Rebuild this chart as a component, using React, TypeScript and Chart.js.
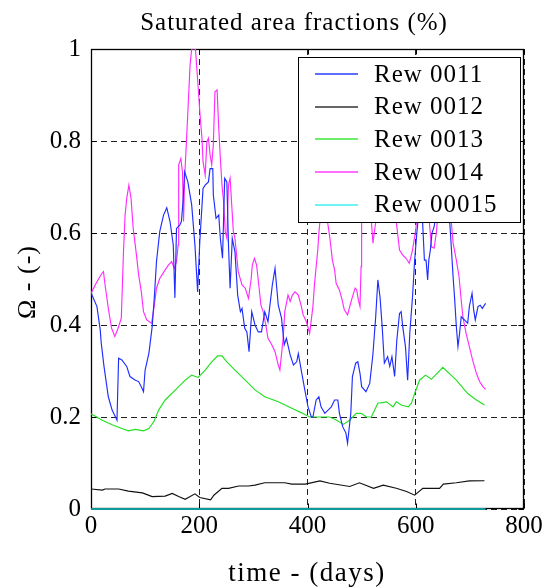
import React, { useEffect, useRef } from "react";
import { Chart, registerables } from "chart.js";
Chart.register(...registerables);

// ---------- data ----------
const seriesNames = ["Rew 0011", "Rew 0012", "Rew 0013", "Rew 0014", "Rew 00015"];
const seriesColors = ["#1f2dff", "#111111", "#22e022", "#ff2cff", "#0e9a9a"];
const legendColors = ["#2a3cff", "#333333", "#3ae83a", "#ff3cff", "#3ef0f0"];

const xTickValues = [0, 200, 400, 600, 800];
const yTickValues = [0, 0.2, 0.4, 0.6, 0.8, 1];

const rew0011Days = [0, 11, 17, 19, 24, 32, 39, 48, 51, 57, 66, 72, 82, 88, 94, 97, 100, 107, 113, 117, 121, 127, 134, 140, 146, 152, 155, 158, 164, 167, 170, 173, 179, 186, 192, 197, 201, 207, 211, 217, 220, 225, 226, 231, 236, 239, 243, 247, 251, 254, 257, 261, 266, 271, 276, 279, 284, 288, 292, 297, 303, 309, 315, 321, 327, 335, 340, 346, 352, 357, 361, 368, 374, 380, 383, 389, 395, 401, 407, 410, 416, 421, 425, 432, 438, 444, 450, 456, 459, 465, 471, 474, 480, 483, 489, 493, 497, 500, 508, 515, 521, 526, 530, 534, 538, 542, 548, 552, 556, 561, 565, 570, 573, 576, 581, 585, 589, 594, 598, 602, 607, 612, 616, 619, 622, 624, 627, 630, 634, 640, 647, 654, 663, 666, 669, 672, 675, 678, 681, 684, 690, 696, 699, 704, 707, 710, 715, 719, 723, 729];
const rew0011 = [0.47, 0.44, 0.39, 0.36, 0.31, 0.244, 0.215, 0.193, 0.328, 0.324, 0.31, 0.288, 0.28, 0.277, 0.263, 0.255, 0.302, 0.339, 0.396, 0.46, 0.538, 0.603, 0.639, 0.655, 0.625, 0.574, 0.459, 0.61, 0.617, 0.625, 0.668, 0.733, 0.711, 0.661, 0.574, 0.472, 0.581, 0.697, 0.704, 0.711, 0.74, 0.74, 0.683, 0.632, 0.639, 0.588, 0.545, 0.719, 0.711, 0.574, 0.48, 0.588, 0.559, 0.465, 0.429, 0.436, 0.393, 0.385, 0.342, 0.429, 0.4, 0.385, 0.385, 0.429, 0.407, 0.487, 0.523, 0.443, 0.415, 0.357, 0.371, 0.335, 0.313, 0.32, 0.338, 0.298, 0.259, 0.222, 0.2, 0.2, 0.237, 0.244, 0.222, 0.208, 0.215, 0.222, 0.237, 0.237, 0.208, 0.179, 0.165, 0.143, 0.208, 0.288, 0.317, 0.32, 0.295, 0.266, 0.255, 0.273, 0.338, 0.418, 0.498, 0.461, 0.396, 0.317, 0.331, 0.31, 0.331, 0.288, 0.367, 0.425, 0.429, 0.396, 0.353, 0.28, 0.382, 0.461, 0.541, 0.6, 0.66, 0.64, 0.541, 0.541, 0.498, 0.54, 0.563, 0.6, 0.614, 0.66, 0.7, 0.67, 0.62, 0.563, 0.505, 0.454, 0.396, 0.353, 0.382, 0.418, 0.411, 0.404, 0.44, 0.469, 0.433, 0.411, 0.44, 0.443, 0.436, 0.447];

const rew0012Days = [0, 21, 26, 51, 69, 95, 113, 137, 150, 162, 174, 192, 201, 221, 227, 242, 254, 273, 291, 303, 321, 358, 371, 396, 423, 441, 478, 496, 522, 540, 564, 583, 598, 613, 644, 651, 675, 699, 727];
const rew0012 = [0.0435, 0.041, 0.0435, 0.0435, 0.039, 0.035, 0.027, 0.028, 0.034, 0.027, 0.021, 0.033, 0.025, 0.02, 0.03, 0.045, 0.045, 0.05, 0.05, 0.052, 0.057, 0.057, 0.054, 0.054, 0.061, 0.056, 0.049, 0.057, 0.045, 0.052, 0.045, 0.038, 0.03, 0.045, 0.045, 0.054, 0.057, 0.061, 0.0615];

const rew0013Days = [0, 21, 39, 57, 69, 82, 97, 107, 116, 125, 137, 156, 174, 186, 198, 211, 223, 234, 242, 251, 266, 285, 303, 321, 346, 371, 389, 404, 441, 454, 466, 478, 490, 499, 509, 518, 524, 530, 546, 558, 564, 573, 586, 592, 598, 607, 618, 629, 650, 675, 696, 712, 727];
const rew0013 = [0.207, 0.193, 0.183, 0.175, 0.17, 0.173, 0.17, 0.175, 0.19, 0.215, 0.237, 0.259, 0.28, 0.291, 0.286, 0.302, 0.32, 0.333, 0.333, 0.32, 0.302, 0.28, 0.259, 0.244, 0.233, 0.219, 0.209, 0.2, 0.2, 0.193, 0.184, 0.193, 0.208, 0.208, 0.2, 0.2, 0.215, 0.23, 0.233, 0.222, 0.233, 0.226, 0.222, 0.23, 0.251, 0.28, 0.291, 0.282, 0.308, 0.28, 0.251, 0.237, 0.226];

const rew0014Days = [0, 11, 20, 23, 26, 32, 38, 44, 50, 56, 60, 63, 66, 70, 74, 78, 84, 88, 93, 97, 103, 112, 117, 121, 127, 135, 143, 149, 154, 158, 161, 162, 166, 169, 171, 173, 176, 179, 183, 186, 193, 196, 199, 201, 205, 207, 211, 214, 217, 220, 223, 226, 229, 233, 236, 239, 242, 245, 248, 251, 254, 257, 260, 263, 266, 269, 272, 279, 285, 291, 296, 298, 302, 306, 310, 314, 318, 323, 327, 334, 340, 346, 349, 355, 358, 364, 368, 372, 377, 383, 388, 392, 398, 404, 407, 410, 413, 416, 419, 421, 423, 427, 433, 437, 441, 446, 450, 453, 459, 464, 468, 474, 478, 483, 488, 491, 494, 497, 499, 500, 505, 511, 518, 521, 524, 527, 534, 544, 554, 559, 564, 570, 576, 582, 588, 594, 600, 604, 612, 619, 625, 629, 634, 638, 644, 652, 659, 666, 669, 675, 680, 684, 687, 693, 699, 705, 712, 718, 724, 729];
const rew0014 = [0.469, 0.494, 0.512, 0.516, 0.487, 0.436, 0.393, 0.375, 0.393, 0.415, 0.559, 0.639, 0.675, 0.704, 0.675, 0.61, 0.552, 0.509, 0.472, 0.429, 0.411, 0.404, 0.443, 0.48, 0.501, 0.516, 0.53, 0.538, 0.523, 0.538, 0.574, 0.748, 0.762, 0.733, 0.625, 0.719, 0.791, 0.864, 0.965, 1.0, 1.0, 0.95, 0.9, 0.864, 0.806, 0.755, 0.726, 0.798, 0.806, 0.77, 0.748, 0.791, 0.907, 0.911, 0.828, 0.762, 0.704, 0.668, 0.603, 0.589, 0.704, 0.719, 0.661, 0.603, 0.588, 0.552, 0.516, 0.487, 0.48, 0.458, 0.501, 0.53, 0.545, 0.53, 0.487, 0.443, 0.429, 0.4, 0.371, 0.357, 0.342, 0.313, 0.302, 0.371, 0.429, 0.465, 0.451, 0.465, 0.472, 0.465, 0.443, 0.422, 0.407, 0.382, 0.411, 0.44, 0.49, 0.527, 0.563, 0.6, 0.625, 0.68, 0.66, 0.625, 0.592, 0.541, 0.52, 0.49, 0.476, 0.454, 0.433, 0.422, 0.44, 0.461, 0.48, 0.476, 0.454, 0.44, 0.527, 0.625, 0.7, 0.68, 0.625, 0.578, 0.607, 0.63, 0.72, 0.75, 0.7, 0.66, 0.625, 0.563, 0.552, 0.545, 0.534, 0.563, 0.607, 0.66, 0.72, 0.68, 0.625, 0.57, 0.567, 0.6, 0.68, 0.72, 0.66, 0.62, 0.578, 0.541, 0.505, 0.454, 0.418, 0.382, 0.353, 0.324, 0.295, 0.277, 0.266, 0.26];

const rew00015Days = [0, 729];
const rew00015 = [0, 0];

// ---------- helpers ----------
const SERIF = "'Liberation Serif', 'Times New Roman', serif";
const pts = (d: number[], v: number[]) => d.map((x, i) => ({ x, y: v[i] }));

const framePlugin = {
  id: "frame",
  beforeDatasetsDraw(chart: any) {
    const { ctx, chartArea: a, scales } = chart;
    const L = Math.round(a.left) + 0.5, R = Math.round(a.right) - 0.5;
    const T = Math.round(a.top) + 0.5, B = Math.round(a.bottom) - 0.5;
    ctx.save();
    ctx.setLineDash([]);
    ctx.strokeStyle = "#000";
    ctx.lineWidth = 1.3;
    ctx.strokeRect(L, T, R - L, B - T);
    ctx.lineWidth = 1;
    ctx.beginPath();
    for (const v of xTickValues) {
      const px = Math.round(scales.x.getPixelForValue(v)) + 0.5;
      ctx.moveTo(px, B); ctx.lineTo(px, B - 5);
      ctx.moveTo(px, T); ctx.lineTo(px, T + 5);
    }
    for (const v of yTickValues) {
      const py = Math.round(scales.y.getPixelForValue(v)) + 0.5;
      ctx.moveTo(L, py); ctx.lineTo(L + 5, py);
      ctx.moveTo(R, py); ctx.lineTo(R - 5, py);
    }
    ctx.stroke();
    ctx.restore();
  },
};

const legendPlugin = {
  id: "boxLegend",
  afterDatasetsDraw(chart: any) {
    const { ctx } = chart;
    const bx = 290.5, by = 49.5, bw = 222, bh = 165;
    ctx.save();
    ctx.fillStyle = "#fff";
    ctx.fillRect(bx, by, bw, bh);
    ctx.strokeStyle = "#000";
    ctx.lineWidth = 1;
    ctx.setLineDash([]);
    ctx.strokeRect(bx, by, bw, bh);
    ctx.font = `25px ${SERIF}`;
    (ctx as any).letterSpacing = "1px";
    ctx.textBaseline = "middle";
    ctx.textAlign = "left";
    chart.data.datasets.forEach((ds: any, i: number) => {
      const y = 66 + i * 32.7;
      ctx.strokeStyle = legendColors[i];
      ctx.lineWidth = 1.6;
      ctx.beginPath();
      ctx.moveTo(307, Math.round(y));
      ctx.lineTo(350, Math.round(y));
      ctx.stroke();
      ctx.fillStyle = "#000";
      ctx.fillText(ds.label, 366, y + 1);
    });
    ctx.restore();
  },
};

const labelsPlugin = {
  id: "labels",
  afterDraw(chart: any) {
    const { ctx } = chart;
    ctx.save();
    ctx.fillStyle = "#000";
    ctx.textAlign = "center";
    ctx.textBaseline = "alphabetic";
    ctx.font = `25px ${SERIF}`;
    (ctx as any).letterSpacing = "1px";
    ctx.fillText("Saturated area fractions (%)", 286, 22);
    ctx.font = `27px ${SERIF}`;
    (ctx as any).letterSpacing = "1.5px";
    ctx.fillText("time - (days)", 299, 573);
    ctx.translate(27, 274);
    ctx.rotate(-Math.PI / 2);
    ctx.font = `26px ${SERIF}`;
    (ctx as any).letterSpacing = "1px";
    ctx.fillText("\u03A9 - (-)", 0, 0);
    ctx.restore();
  },
};

const fmt = (v: number) => String(Number(Number(v).toFixed(1)));

export default function App() {
  const ref = useRef<HTMLCanvasElement | null>(null);
  useEffect(() => {
    if (!ref.current) return;
    const seriesDays = [rew0011Days, rew0012Days, rew0013Days, rew0014Days, rew00015Days];
    const seriesVals = [rew0011, rew0012, rew0013, rew0014, rew00015];
    const chart = new Chart(ref.current, {
      type: "line",
      data: {
        datasets: seriesNames.map((name, i) => ({
          label: name,
          data: pts(seriesDays[i], seriesVals[i]),
          borderColor: seriesColors[i],
          backgroundColor: seriesColors[i],
          borderWidth: i === 4 ? 2 : 1.15,
          pointRadius: 0,
          tension: 0,
          fill: false,
          clip: i === 4 ? 3 : 0,
        })),
      },
      options: {
        animation: false,
        responsive: false,
        maintainAspectRatio: false,
        layout: { padding: { left: 0, right: 22, top: 41, bottom: 0 } },
        plugins: { legend: { display: false }, title: { display: false }, tooltip: { enabled: false } },
        scales: {
          x: {
            type: "linear",
            min: 0,
            max: 800,
            afterBuildTicks: (s: any) => { s.ticks = xTickValues.map((v) => ({ value: v })); },
            ticks: { font: { family: SERIF, size: 25 }, color: "#000", padding: 2, maxRotation: 0, callback: (v: any) => fmt(v) },
            grid: { color: "#222", lineWidth: 1, drawTicks: false },
            border: { display: false, dash: [6, 4] },
            afterFit: (s: any) => { s.height = 79; s.paddingLeft = 0; s.paddingRight = 0; },
          },
          y: {
            type: "linear",
            min: 0,
            max: 1,
            afterBuildTicks: (s: any) => { s.ticks = yTickValues.map((v) => ({ value: v })); },
            ticks: { font: { family: SERIF, size: 25 }, color: "#000", padding: 10, callback: (v: any) => fmt(v) },
            grid: { color: "#222", lineWidth: 1, drawTicks: false },
            border: { display: false, dash: [6, 4] },
            afterFit: (s: any) => { s.width = 83; s.paddingTop = 0; s.paddingBottom = 0; },
          },
        },
      },
      plugins: [framePlugin, legendPlugin, labelsPlugin],
    } as any);
    return () => chart.destroy();
  }, []);
  return (
    <div style={{ width: 530, height: 572 }}>
      <canvas
        ref={ref}
        width={538}
        height={580}
        style={{ display: "block", position: "fixed", left: 8, top: 8, width: 538, height: 580 }}
      />
    </div>
  );
}
